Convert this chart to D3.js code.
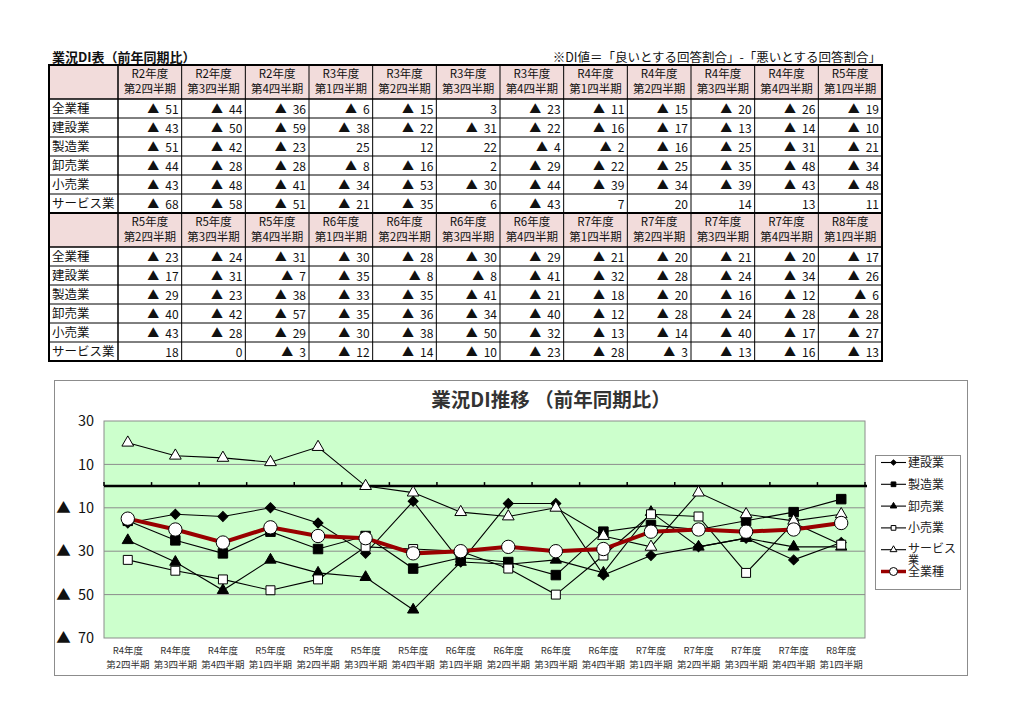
<!DOCTYPE html>
<html>
<head>
<meta charset="utf-8">
<script src="https://cdn.jsdelivr.net/npm/d3@7"></script>
<style>
  body { margin: 0; background: #fff; }
  svg { display: block; font-family: "Noto Sans CJK JP", "Noto Sans", sans-serif; }
</style>
</head>
<body>
<div id="chart"></div>
<script>
// ─── Data ───────────────────────────────────────────────────────────────
const periodYears    = ['R2','R2','R2','R3','R3','R3','R3','R4','R4','R4','R4','R5',
                        'R5','R5','R5','R6','R6','R6','R6','R7','R7','R7','R7','R8'];
const periodQuarters = [2,3,4,1,2,3,4,1,2,3,4,1, 2,3,4,1,2,3,4,1,2,3,4,1];

const industries = ['全業種', '建設業', '製造業', '卸売業', '小売業', 'サービス業'];

// negative values are shown as ▲
const allIndustry   = [-51,-44,-36,-6,-15,3,-23,-11,-15,-20,-26,-19, -23,-24,-31,-30,-28,-30,-29,-21,-20,-21,-20,-17];
const construction  = [-43,-50,-59,-38,-22,-31,-22,-16,-17,-13,-14,-10, -17,-31,-7,-35,-8,-8,-41,-32,-28,-24,-34,-26];
const manufacturing = [-51,-42,-23,25,12,22,-4,-2,-16,-25,-31,-21, -29,-23,-38,-33,-35,-41,-21,-18,-20,-16,-12,-6];
const wholesale     = [-44,-28,-28,-8,-16,2,-29,-22,-25,-35,-48,-34, -40,-42,-57,-35,-36,-34,-40,-12,-28,-24,-28,-28];
const retail        = [-43,-48,-41,-34,-53,-30,-44,-39,-34,-39,-43,-48, -43,-28,-29,-30,-38,-50,-32,-13,-14,-40,-17,-27];
const service       = [-68,-58,-51,-21,-35,6,-43,7,20,14,13,11, 18,0,-3,-12,-14,-10,-23,-28,-3,-13,-16,-13];

const chartStart = 8;              // chart shows R4 第2四半期 onward
const yTicks = [30, 10, -10, -30, -50, -70];

const W = 1024, H = 724;
const fmt = v => v < 0 ? '▲\u2002' + Math.abs(v) : String(v);

const svg = d3.select('#chart').append('svg')
  .attr('width', W).attr('height', H);

// ─── Table ──────────────────────────────────────────────────────────────
const tableRows = [allIndustry, construction, manufacturing, wholesale, retail, service]
  .map((values, i) => ({ name: industries[i], values }));

const T = { left: 49, labelRight: 118, right: 882, top: 65, headH: 34, rowH: 19, perBlock: 12 };
const blockH = T.headH + T.rowH * industries.length;

svg.append('text')
  .attr('x', 52).attr('y', 62)
  .attr('font-size', 13).attr('font-weight', 'bold').attr('fill', '#111')
  .text('業況DI表（前年同期比）');

svg.append('text')
  .attr('x', 881).attr('y', 62)
  .attr('text-anchor', 'end').attr('font-size', 12.5).attr('fill', '#111')
  .text('※DI値＝「良いとする回答割合」-「悪いとする回答割合」');

const colX = d3.scaleBand()
  .domain(d3.range(T.perBlock))
  .range([T.labelRight, T.right]);

const rowY = d3.scaleBand()
  .domain(d3.range(industries.length))
  .range([0, T.rowH * industries.length]);

[0, 1].forEach(b => {
  const g = svg.append('g').attr('transform', `translate(0, ${T.top + b * blockH})`);
  const idx = d3.range(T.perBlock).map(i => b * T.perBlock + i);

  // header band
  g.append('rect')
    .attr('x', T.left).attr('y', 0)
    .attr('width', T.right - T.left).attr('height', T.headH)
    .attr('fill', '#f2dcdb');

  g.selectAll('.hd1').data(idx).join('text')
    .attr('x', (d, i) => colX(i) + colX.bandwidth() / 2).attr('y', 13)
    .attr('text-anchor', 'middle').attr('font-size', 11.5).attr('fill', '#111')
    .text(d => `${periodYears[d]}年度`);
  g.selectAll('.hd2').data(idx).join('text')
    .attr('x', (d, i) => colX(i) + colX.bandwidth() / 2).attr('y', 28)
    .attr('text-anchor', 'middle').attr('font-size', 11.5).attr('fill', '#111')
    .text(d => `第${periodQuarters[d]}四半期`);

  const body = g.append('g').attr('transform', `translate(0, ${T.headH})`);

  tableRows.forEach((row, r) => {
    const cy = rowY(r) + rowY.bandwidth() / 2;
    body.append('text')
      .attr('x', T.left + 3).attr('y', cy + 4.5)
      .attr('font-size', 12.5).attr('fill', '#111')
      .text(row.name);
    body.selectAll(null).data(idx).join('text')
      .attr('x', (d, i) => colX(i) + colX.bandwidth() - 3).attr('y', cy + 5.5)
      .attr('text-anchor', 'end').attr('font-size', 12).attr('fill', '#111')
      .text(d => fmt(row.values[d]));
  });

  // grid lines
  const rowLines = d3.range(industries.length + 1).map(i => T.headH + rowY.step() * i);
  g.selectAll('.hl').data(rowLines).join('line')
    .attr('x1', T.left).attr('x2', T.right)
    .attr('y1', d => d).attr('y2', d => d)
    .attr('stroke', '#000').attr('stroke-width', (d, i) => i === 0 ? 1.5 : 1);

  const colLines = [T.labelRight, ...d3.range(1, T.perBlock).map(i => colX(i))];
  g.selectAll('.vl').data(colLines).join('line')
    .attr('x1', d => d).attr('x2', d => d)
    .attr('y1', 0).attr('y2', blockH)
    .attr('stroke', '#000').attr('stroke-width', (d, i) => i === 0 ? 1.5 : 1);

  g.append('rect')
    .attr('x', T.left).attr('y', 0)
    .attr('width', T.right - T.left).attr('height', blockH)
    .attr('fill', 'none').attr('stroke', '#000').attr('stroke-width', 2);
});

// ─── Line chart ─────────────────────────────────────────────────────────
const C = { left: 104, right: 865, top: 421, bottom: 638 };

svg.append('rect')
  .attr('x', 54.5).attr('y', 380.5).attr('width', 913).attr('height', 295)
  .attr('fill', '#fff').attr('stroke', '#8c8c8c').attr('stroke-width', 1);

svg.append('text')
  .attr('x', 551).attr('y', 407)
  .attr('text-anchor', 'middle').attr('font-size', 19.5).attr('font-weight', 'bold')
  .attr('fill', '#333')
  .text('業況DI推移 （前年同期比）');

const chartIdx = d3.range(chartStart, periodYears.length);

const x = d3.scaleBand()
  .domain(chartIdx)
  .range([C.left, C.right]);
const cx = d => x(d) + x.bandwidth() / 2;

const y = d3.scaleLinear()
  .domain([-70, 30])
  .range([C.bottom, C.top]);

svg.append('rect')
  .attr('x', C.left).attr('y', C.top)
  .attr('width', C.right - C.left).attr('height', C.bottom - C.top)
  .attr('fill', '#ccffcc').attr('stroke', '#8c8c8c').attr('stroke-width', 1);

// horizontal gridlines
svg.append('g')
  .selectAll('line').data(yTicks.filter(v => v > -70 && v < 30)).join('line')
  .attr('x1', C.left).attr('x2', C.right)
  .attr('y1', d => y(d)).attr('y2', d => y(d))
  .attr('stroke', '#8c8c8c').attr('stroke-width', 1);

// y axis labels
const yAxis = d3.axisLeft(y).tickValues(yTicks).tickSize(0).tickPadding(10).tickFormat(fmt);
svg.append('g')
  .attr('transform', `translate(${C.left}, 0)`)
  .call(yAxis)
  .call(g => {
    g.select('.domain').remove();
    g.selectAll('text').attr('font-size', 14.5).attr('fill', '#111')
      .attr('font-family', '"Noto Sans CJK JP", sans-serif');
  });

// x axis (crosses at 0)
const y0 = y(0);
svg.append('line')
  .attr('x1', C.left).attr('x2', C.right + 2)
  .attr('y1', y0).attr('y2', y0)
  .attr('stroke', '#000').attr('stroke-width', 2.5);
svg.append('g')
  .selectAll('line').data(chartIdx.concat([null])).join('line')
  .attr('x1', d => d === null ? C.right : x(d))
  .attr('x2', d => d === null ? C.right : x(d))
  .attr('y1', y0 - 4).attr('y2', y0)
  .attr('stroke', '#000').attr('stroke-width', 1.5);

const xl = svg.append('g').attr('font-size', 9.5).attr('fill', '#333').attr('text-anchor', 'middle');
xl.selectAll('.xl1').data(chartIdx).join('text')
  .attr('x', cx).attr('y', 654)
  .text(d => `${periodYears[d]}年度`);
xl.selectAll('.xl2').data(chartIdx).join('text')
  .attr('x', cx).attr('y', 668)
  .text(d => `第${periodQuarters[d]}四半期`);

// series
const series = [
  { name: '建設業',     values: construction,  marker: 'diamond',  fill: '#000', size: 50,  lsize: 14 },
  { name: '製造業',     values: manufacturing, marker: 'square',   fill: '#000', size: 90,  lsize: 22 },
  { name: '卸売業',     values: wholesale,     marker: 'triangle', fill: '#000', size: 55,  lsize: 18 },
  { name: '小売業',     values: retail,        marker: 'square',   fill: '#fff', size: 80,  lsize: 22 },
  { name: 'サービス業', values: service,       marker: 'triangle', fill: '#fff', size: 60,  lsize: 20 },
  { name: '全業種',     values: allIndustry,   marker: 'circle',   fill: '#fff', size: 140, lsize: 50, main: true }
];

const symbolType = { diamond: d3.symbolSquare, square: d3.symbolSquare, triangle: d3.symbolTriangle, circle: d3.symbolCircle };
const markerPath = (s, size) => d3.symbol().type(symbolType[s.marker]).size(size)();
const markerRot = s => s.marker === 'diamond' ? 45 : 0;

const line = d3.line().x(d => cx(d.i)).y(d => y(d.v));

series.forEach(s => {
  const pts = chartIdx.map(i => ({ i, v: s.values[i] }));
  svg.append('path')
    .datum(pts)
    .attr('d', line)
    .attr('fill', 'none')
    .attr('stroke', s.main ? '#990000' : '#000')
    .attr('stroke-width', s.main ? 4 : 1.1);
  svg.append('g')
    .selectAll('path').data(pts).join('path')
    .attr('d', markerPath(s, s.size))
    .attr('transform', d => `translate(${cx(d.i)}, ${y(d.v)}) rotate(${markerRot(s)})`)
    .attr('fill', s.fill)
    .attr('stroke', '#000').attr('stroke-width', 1);
});

// legend
const legend = svg.append('g');
legend.append('rect')
  .attr('x', 875.5).attr('y', 455.5).attr('width', 85).attr('height', 134)
  .attr('fill', '#fff').attr('stroke', '#8c8c8c');

const legY = d3.scalePoint()
  .domain(series.map(s => s.name))
  .range([462.5, 571.5]);

series.forEach(s => {
  const ly = legY(s.name);
  legend.append('line')
    .attr('x1', 881).attr('x2', 906).attr('y1', ly).attr('y2', ly)
    .attr('stroke', s.main ? '#990000' : '#000').attr('stroke-width', s.main ? 3.5 : 1.1);
  legend.append('path')
    .attr('d', markerPath(s, s.lsize))
    .attr('transform', `translate(893.5, ${ly}) rotate(${markerRot(s)})`)
    .attr('fill', s.fill).attr('stroke', '#000').attr('stroke-width', 1);
  if (s.name === 'サービス業') {
    // the legend wraps this label onto a second line, as in the source
    legend.append('text').attr('x', 908).attr('y', ly + 3.5)
      .attr('font-size', 12).attr('fill', '#222').text('サービス');
    legend.append('text').attr('x', 908).attr('y', ly + 14)
      .attr('font-size', 11).attr('fill', '#222').text('業');
  } else {
    legend.append('text').attr('x', 908).attr('y', ly + 4.5)
      .attr('font-size', 12).attr('fill', '#222').text(s.name);
  }
});
</script>
</body>
</html>
